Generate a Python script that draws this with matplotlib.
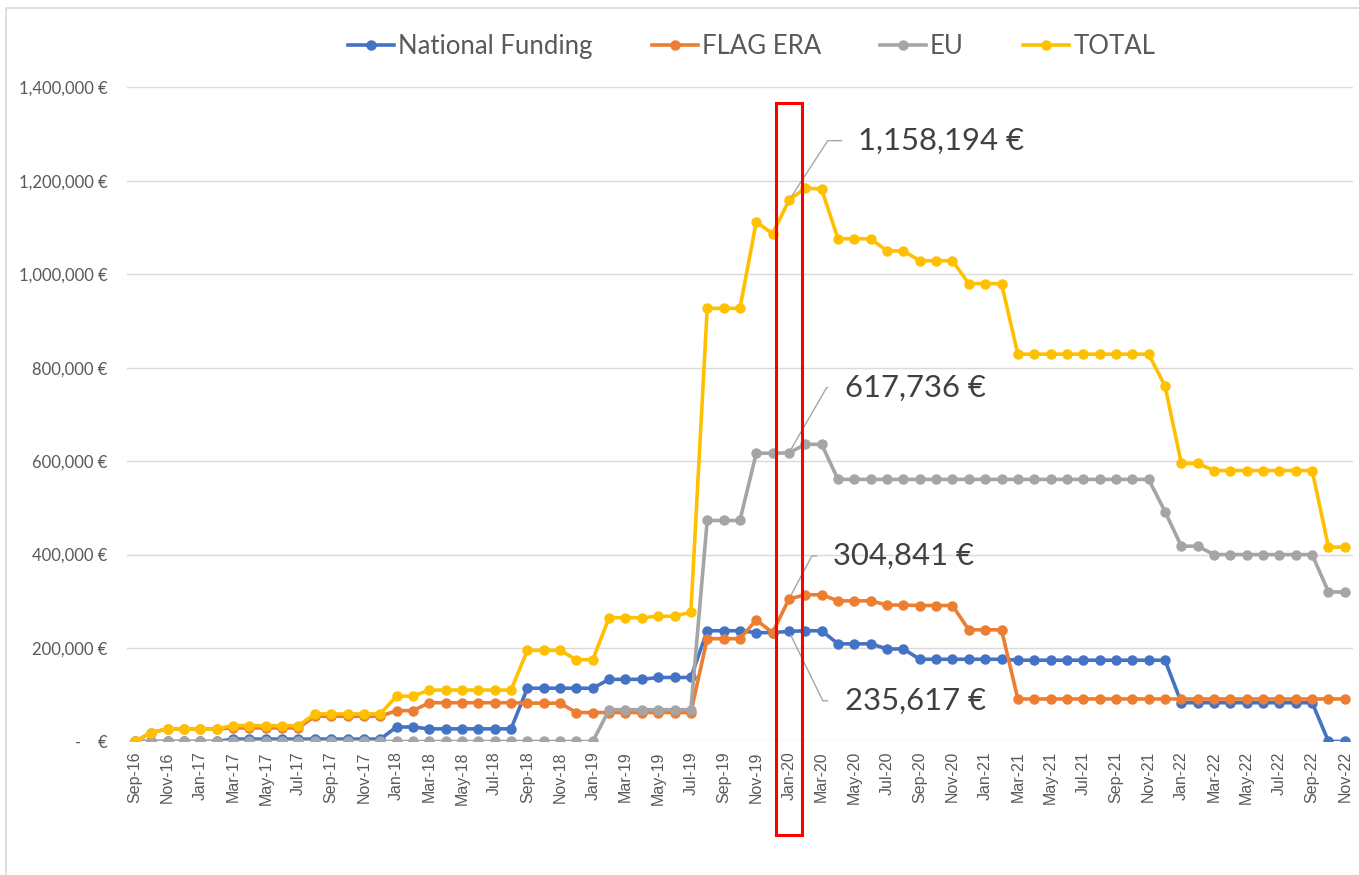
import numpy as np
import pandas as pd
import matplotlib
matplotlib.use('Agg')
import matplotlib.pyplot as plt
from matplotlib.patches import Rectangle
import matplotlib.transforms as mtransforms


# Meses (Sep-16 ... Nov-22)
meses = pd.date_range('2016-09-01', '2022-11-01', freq='MS').strftime('%b-%y').tolist()

# Valores (EUR)
national = [0, 0, 0, 0,
            0, 0, 5000, 5000, 5000, 5000, 5000, 5000, 5000, 5000, 5000, 5000,
            31000, 31000, 27000, 27000, 27000, 27000, 27000, 27000, 114000, 114000, 114000, 114000,
            114000, 133000, 133000, 133000, 137000, 137000, 137000, 237000, 237000, 237000, 233000, 233000,
            235617, 237000, 237000, 209000, 209000, 209000, 198000, 198000, 176000, 176000, 176000, 176000,
            176000, 176000, 174000, 174000, 174000, 174000, 174000, 174000, 174000, 174000, 174000, 174000,
            83000, 83000, 83000, 83000, 83000, 83000, 83000, 83000, 83000, 0, 0]

flag_era = [0, 19000, 27000, 27000,
            27000, 27000, 29000, 29000, 29000, 29000, 29000, 54000, 54000, 54000, 54000, 54000,
            66000, 66000, 83000, 83000, 83000, 83000, 83000, 83000, 82000, 82000, 82000, 62000,
            62000, 62000, 62000, 62000, 62000, 62000, 62000, 220000, 220000, 220000, 260000, 233000,
            304841, 314000, 314000, 301000, 301000, 301000, 292000, 292000, 291000, 291000, 291000, 239000,
            239000, 239000, 91000, 91000, 91000, 91000, 91000, 91000, 91000, 91000, 91000, 91000,
            91000, 91000, 91000, 91000, 91000, 91000, 91000, 91000, 91000, 91000, 91000]

eu = [0, 0, 0, 0,
      0, 0, 0, 0, 0, 0, 0, 0, 0, 0, 0, 0,
      0, 0, 0, 0, 0, 0, 0, 0, 0, 0, 0, 0,
      0, 68000, 68000, 68000, 68000, 68000, 68000, 473000, 473000, 473000, 617000, 617000,
      617736, 636000, 636000, 561000, 561000, 561000, 561000, 561000, 561000, 561000, 561000, 561000,
      561000, 561000, 561000, 561000, 561000, 561000, 561000, 561000, 561000, 561000, 561000, 492000,
      418000, 418000, 400000, 400000, 400000, 400000, 400000, 400000, 400000, 320000, 320000]

total = [0, 19000, 27000, 27000,
         27000, 27000, 34000, 34000, 34000, 34000, 34000, 59000, 59000, 59000, 59000, 59000,
         97000, 97000, 110000, 110000, 110000, 110000, 110000, 110000, 195000, 195000, 195000, 175000,
         175000, 265000, 265000, 265000, 268000, 268000, 277000, 927000, 927000, 927000, 1112000, 1087000,
         1158194, 1185000, 1182000, 1076000, 1076000, 1076000, 1050000, 1050000, 1029000, 1029000, 1029000, 980000,
         980000, 980000, 829000, 829000, 829000, 829000, 829000, 829000, 829000, 829000, 829000, 761000,
         595000, 595000, 580000, 580000, 580000, 580000, 580000, 580000, 580000, 416000, 416000]

yticks = [0, 200000, 400000, 600000, 800000, 1000000, 1200000, 1400000]
ytick_labels = ['-    €', '200,000 €', '400,000 €', '600,000 €', '800,000 €',
                '1,000,000 €', '1,200,000 €', '1,400,000 €']

mes_marcado = 'Jan-20'

series = [('National Funding', national, '#4472C4'),
          ('FLAG ERA', flag_era, '#ED7D31'),
          ('EU', eu, '#A5A5A5'),
          ('TOTAL', total, '#FFC000')]

plt.rcParams['font.family'] = ['Lato', 'DejaVu Sans']

fig = plt.figure(figsize=(13.59, 8.75), dpi=100)
ax = fig.add_axes([0.0933, 0.1526, 0.9023, 0.7475])

# marco del grafico
fig.patches.append(Rectangle((6 / 1359, -0.1), 1.2, 1.1 - 8 / 875, transform=fig.transFigure,
                             fill=False, edgecolor='#d9d9d9', linewidth=1.2))

x = np.arange(len(meses))
for nombre, valores, color in series:
    ax.plot(x, valores, color=color, linewidth=2.6, marker='o', markersize=6.5, label=nombre)

ax.set_xlim(-0.5, len(meses) - 0.5)
ax.set_ylim(0, 1400000)
ax.set_yticks(yticks)
ax.set_yticklabels(ytick_labels, fontsize=12, color='#595959')
ax.set_xticks(x[::2])
ax.set_xticklabels(meses[::2], rotation=90, fontsize=11.5, color='#595959',
                   family=['Liberation Sans', 'DejaVu Sans'])
ax.tick_params(axis='y', length=0, pad=14)
ax.tick_params(axis='x', length=0, pad=7)
ax.grid(axis='y', color='#d9d9d9', linewidth=1)
ax.set_axisbelow(True)
for s in ax.spines.values():
    s.set_visible(False)

# etiquetas de Jan-20
i0 = meses.index(mes_marcado)
etiquetas = [(total[i0], 50, 43, 57), (eu[i0], 40, 47, 60),
             (flag_era[i0], 32, 31, 62), (national[i0], 40, -50, -64)]
for valor, dx, dy, ang in etiquetas:
    ax.annotate(f'{valor:,} €', xy=(i0, valor), xytext=(dx, dy), textcoords='offset points',
                ha='left', va='center', fontsize=22.3, color='#404040',
                arrowprops=dict(arrowstyle='-', color='#a6a6a6', linewidth=1,
                                connectionstyle=f'angle,angleA=0,angleB={ang},rad=0',
                                relpos=(0, 0.5), shrinkA=10, shrinkB=3))

# rectangulo rojo
trans = mtransforms.blended_transform_factory(ax.transData, ax.transAxes)
ax.add_patch(Rectangle((i0 - 0.78, -0.143), 1.55, 0.976 + 0.143, transform=trans,
                       fill=False, edgecolor='#FF0000', linewidth=2.2, clip_on=False, zorder=10))

fig.legend(loc='center', bbox_to_anchor=(0.553, 0.947), ncol=4, frameon=False,
           fontsize=18.5, labelcolor='#595959', handlelength=1.8, handletextpad=0.15,
           columnspacing=2.3, numpoints=1)

plt.savefig('out.png', dpi=100)
